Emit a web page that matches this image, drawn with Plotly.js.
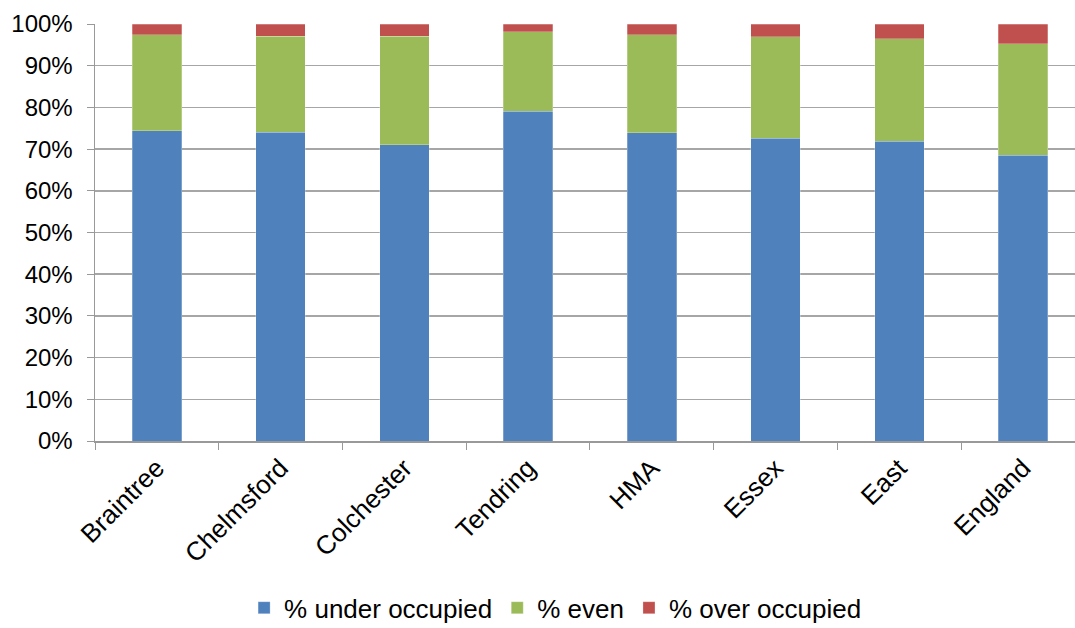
<!DOCTYPE html>
<html><head><meta charset="utf-8">
<script src="https://cdn.plot.ly/plotly-3.0.1.min.js"></script>
<style>html,body{margin:0;padding:0;background:#fff;overflow:hidden}</style>
</head><body>
<div id="chart" style="width:1075px;height:628px"></div>
<script>
const categories = ["Braintree","Chelmsford","Colchester","Tendring","HMA","Essex","East","England"];
const underOccupied = [74.4, 74.1, 71.0, 79.1, 73.9, 72.6, 71.9, 68.5];
const even = [23.0, 23.0, 26.1, 19.0, 23.5, 24.3, 24.6, 26.8];
const overOccupied = [2.6, 2.9, 2.9, 1.9, 2.6, 3.1, 3.5, 4.7];
const seriesNames = ["% under occupied","% even","% over occupied"];
const colors = ["#4F81BD","#9BBB59","#C0504D"];

const series = [underOccupied, even, overOccupied];
const traces = series.map((vals, i) => ({
  type: "bar",
  name: seriesNames[i],
  x: categories,
  y: vals.map(v => v / 100),
  marker: {color: colors[i], line: {color: "rgba(255,255,255,0.5)", width: 0.5}},
  hoverinfo: "x+y+name"
}));

const layout = {
  width: 1075, height: 628,
  barmode: "stack",
  bargap: 0.6,
  margin: {l: 95, r: 0, t: 24, b: 187, autoexpand: false},
  paper_bgcolor: "#fff", plot_bgcolor: "#fff",
  font: {family: "Liberation Sans, Arial, sans-serif", size: 24, color: "#000"},
  xaxis: {
    range: [-0.5, 7.42],
    automargin: false,
    tickangle: -45,
    ticks: "outside", ticklen: 7, tickcolor: "#999",
    tickson: "boundaries",
    showline: true, linecolor: "#999", linewidth: 1.5,
    showgrid: false,
    tickfont: {size: 26}
  },
  yaxis: {
    range: [0, 1],
    automargin: false,
    tickformat: ".0%",
    dtick: 0.1,
    ticks: "outside", ticklen: 7, tickcolor: "#999",
    ticklabelstandoff: 9,
    showline: true, linecolor: "#999", linewidth: 1.5,
    showgrid: true, gridcolor: "#a6a6a6", gridwidth: 1.5,
    zeroline: false,
    tickfont: {size: 24}
  },
  showlegend: true,
  legend: {
    orientation: "h",
    x: 0.47, xanchor: "center",
    y: -0.40, yanchor: "middle",
    font: {size: 26},
    itemwidth: 30,
    traceorder: "normal"
  }
};

Plotly.newPlot("chart", traces, layout, {displayModeBar: false, staticPlot: true});
</script>
</body></html>
